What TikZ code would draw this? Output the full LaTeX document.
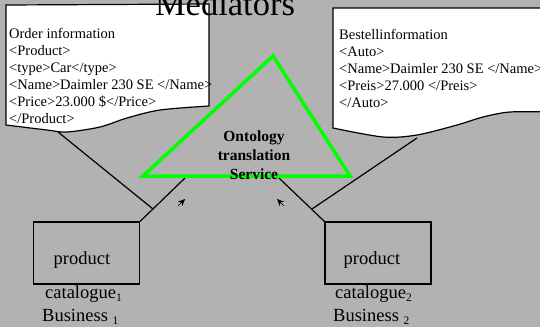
\documentclass[tikz,border=0pt]{standalone}
\usepackage{fontspec}
\setmainfont{Liberation Serif}
\usetikzlibrary{arrows.meta}
\definecolor{slidegray}{RGB}{178,178,178}
\definecolor{ontogreen}{RGB}{0,255,0}
\newcommand{\lowsub}[1]{\raisebox{-3pt}{\fontsize{11.5}{12}\selectfont #1}}

\begin{document}
\begin{tikzpicture}[x=1pt, y=-1pt, draw=black,
  wire/.style={line width=1.2pt},
  docsheet/.style={line width=1.2pt, fill=white},
  xmlline/.style={anchor=base west, inner sep=0pt, font=\fontsize{14.5}{17}\selectfont},
  catbox/.style={draw, line width=1.2pt, minimum width=106pt, minimum height=62pt, inner sep=0pt},
  boxtext/.style={anchor=base west, inner sep=0pt, font=\fontsize{18.5}{22}\selectfont},
  flowtip/.style={-{Stealth[length=7pt, width=6pt]}}]

\useasboundingbox (0,0) rectangle (540,327);
\clip (0,0) rectangle (540,327);
\fill[slidegray] (0,0) rectangle (540,327);

% order sheet, left
\draw[docsheet] (6,5) -- (209,4) -- plot[smooth] coordinates {(209,106) (160,110) (127,118) (100,127) (67,132) (47,130) (6,125)} -- cycle;
\foreach \txt [count=\i] in {Order information, <Product>, <type>Car</type>, <Name>Daimler 230 SE </Name>, <Price>23.000 \$</Price>, </Product>}
  \node[xmlline] (order\i) at (9, {21+17*\i}) {\txt};

% order sheet, right
\draw[docsheet] (550,8) -- (333,8) -- plot[smooth] coordinates {(333,128) (383,137) (417,135) (457,125) (483,117) (510,112) (550,112)} -- cycle;
\foreach \txt [count=\i] in {Bestellinformation, <Auto>, <Name>Daimler 230 SE </Name>, <Preis>27.000 </Preis>, </Auto>}
  \node[xmlline] (bestell\i) at (339, {23+16.8*\i}) {\txt};

\node[anchor=base, inner sep=0pt, font=\fontsize{34.5}{40}\selectfont] (title) at (225,15) {Mediators};

\coordinate (docL) at (58,132);
\coordinate (docR) at (417,138);
\coordinate (joinL) at (153,209);
\coordinate (joinR) at (312,209);
\coordinate (triL) at (185,178);
\coordinate (triR) at (279,178);

\node[catbox] (cat1) at (86.5,253) {};
\node[catbox] (cat2) at (378,253) {};

\draw[wire] (cat1.north east) -- (triL);
\draw[wire] (docL) -- (joinL);
\draw[wire] (cat2.north west) -- (triR);
\draw[wire] (docR) -- (joinR);

\coordinate (apex) at (273,56);
\coordinate (triBL) at (143,176);
\coordinate (triBR) at (350,176);
\draw[ontogreen, line width=3.5pt, line join=miter] (apex) -- (triBL) -- (triBR) -- cycle;
\node[font=\bfseries\fontsize{15.5}{19}\selectfont, align=center, inner sep=0pt] (onto) at (254,155) {Ontology\\translation\\Service};

\coordinate (a1s) at (178,206);
\coordinate (a1e) at (185,199);
\draw[flowtip] (a1s) -- (a1e);
\coordinate (a2s) at (284,206);
\coordinate (a2e) at (277,199);
\draw[flowtip] (a2s) -- (a2e);

\node[boxtext, anchor=base] (prod1) at (82,264) {product};
\node[boxtext] (catl1) at (45,298) {catalogue\lowsub{1}};
\node[boxtext] (bus1) at (42,321) {Business \lowsub{1}};

\node[boxtext, anchor=base] (prod2) at (372,264) {product};
\node[boxtext] (catl2) at (335,298) {catalogue\lowsub{2}};
\node[boxtext] (bus2) at (333,321) {Business \lowsub{2}};
\end{tikzpicture}
\end{document}
